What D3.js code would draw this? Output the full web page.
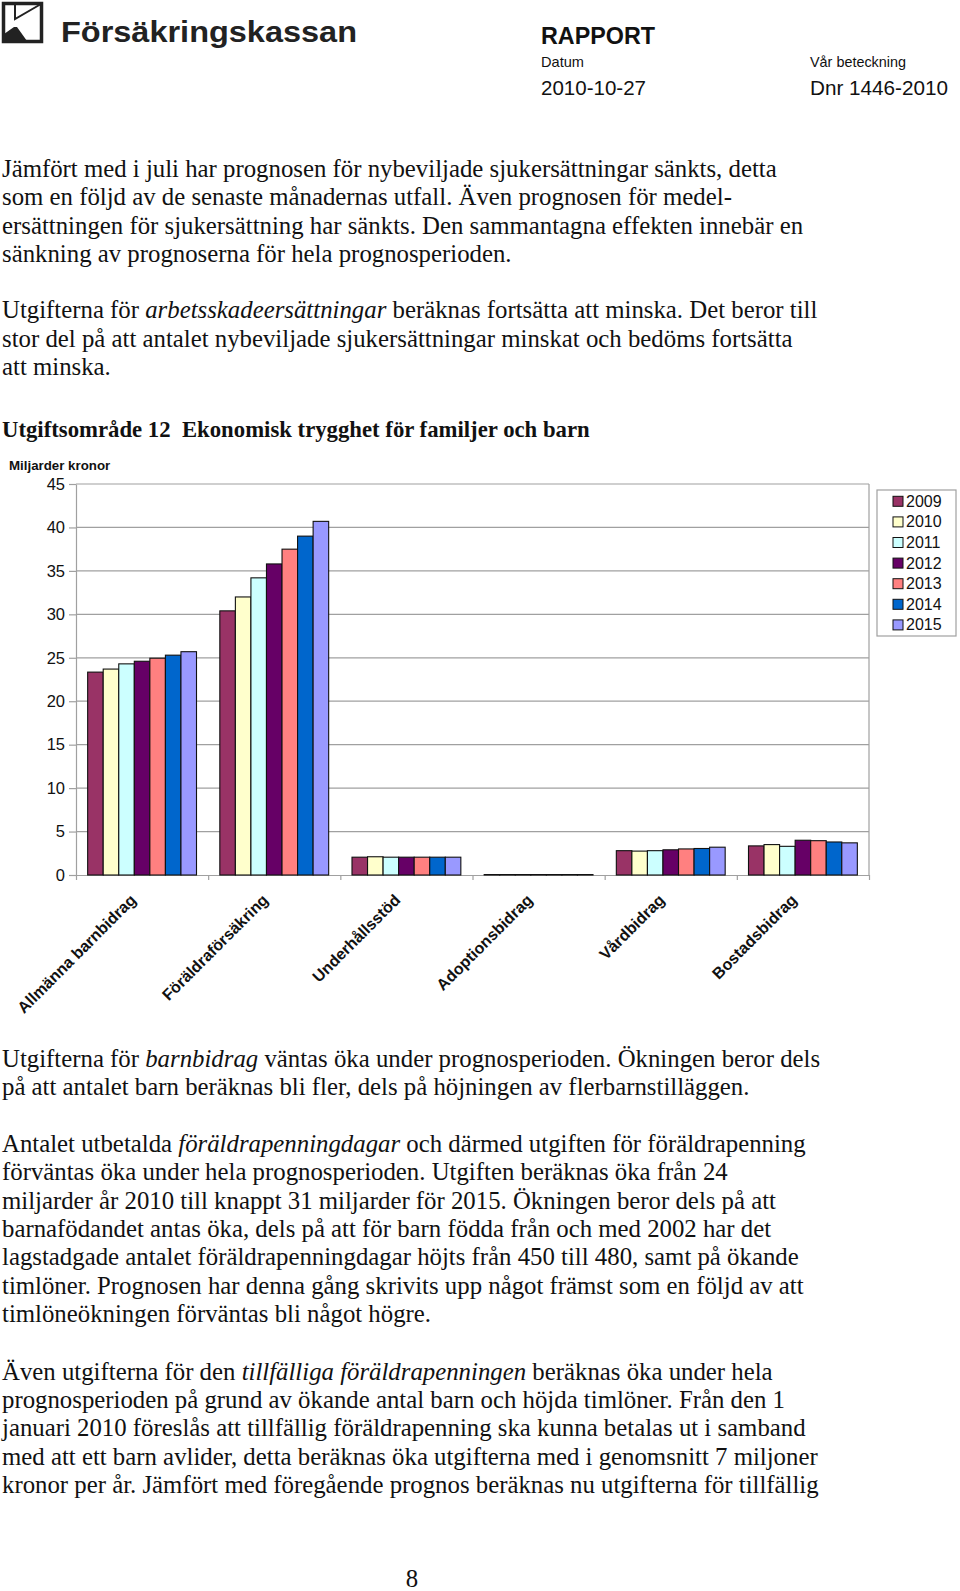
<!DOCTYPE html>
<html>
<head>
<meta charset="utf-8">
<script src="https://cdn.jsdelivr.net/npm/d3@7"></script>
<style>
  body { margin: 0; background: #fff; }
  svg { display: block; }
</style>
</head>
<body>
<div id="page"></div>
<script>
// Utgiftsområde 12 (miljarder kronor)
const categories = ["Allmänna barnbidrag", "Föräldraförsäkring", "Underhållsstöd", "Adoptionsbidrag", "Vårdbidrag", "Bostadsbidrag"];
const years = ["2009", "2010", "2011", "2012", "2013", "2014", "2015"];
const allmannaBarnbidrag = [23.35, 23.7, 24.3, 24.6, 24.95, 25.3, 25.7];
const foraldraforsakring = [30.4, 32.0, 34.2, 35.8, 37.5, 39.0, 40.7];
const underhallsstod = [2.05, 2.1, 2.05, 2.05, 2.05, 2.05, 2.05];
const adoptionsbidrag = [0.05, 0.05, 0.05, 0.05, 0.05, 0.05, 0.05];
const vardbidrag = [2.8, 2.75, 2.8, 2.9, 3.0, 3.05, 3.2];
const bostadsbidrag = [3.35, 3.5, 3.3, 4.0, 3.95, 3.8, 3.7];
const yTicks = [0, 5, 10, 15, 20, 25, 30, 35, 40, 45];
const yearColors = ["#993366", "#FFFFCC", "#CCFFFF", "#660066", "#FF8080", "#0066CC", "#9999FF"];

const seriesByCategory = [allmannaBarnbidrag, foraldraforsakring, underhallsstod, adoptionsbidrag, vardbidrag, bostadsbidrag];

// page text, *...* marks italic words
const textBefore = [
  ["Jämfört med i juli har prognosen för nybeviljade sjukersättningar sänkts, detta",
   "som en följd av de senaste månadernas utfall. Även prognosen för medel-",
   "ersättningen för sjukersättning har sänkts. Den sammantagna effekten innebär en",
   "sänkning av prognoserna för hela prognosperioden."],
  ["Utgifterna för *arbetsskadeersättningar* beräknas fortsätta att minska. Det beror till",
   "stor del på att antalet nybeviljade sjukersättningar minskat och bedöms fortsätta",
   "att minska."]
];
const textAfter = [
  ["Utgifterna för *barnbidrag* väntas öka under prognosperioden. Ökningen beror dels",
   "på att antalet barn beräknas bli fler, dels på höjningen av flerbarnstilläggen."],
  ["Antalet utbetalda *föräldrapenningdagar* och därmed utgiften för föräldrapenning",
   "förväntas öka under hela prognosperioden. Utgiften beräknas öka från 24",
   "miljarder år 2010 till knappt 31 miljarder för 2015. Ökningen beror dels på att",
   "barnafödandet antas öka, dels på att för barn födda från och med 2002 har det",
   "lagstadgade antalet föräldrapenningdagar höjts från 450 till 480, samt på ökande",
   "timlöner. Prognosen har denna gång skrivits upp något främst som en följd av att",
   "timlöneökningen förväntas bli något högre."],
  ["Även utgifterna för den *tillfälliga föräldrapenningen* beräknas öka under hela",
   "prognosperioden på grund av ökande antal barn och höjda timlöner. Från den 1",
   "januari 2010 föreslås att tillfällig föräldrapenning ska kunna betalas ut i samband",
   "med att ett barn avlider, detta beräknas öka utgifterna med i genomsnitt 7 miljoner",
   "kronor per år. Jämfört med föregående prognos beräknas nu utgifterna för tillfällig"]
];

const W = 960, H = 1591;
const svg = d3.select("#page").append("svg").attr("width", W).attr("height", H);
svg.append("rect").attr("width", W).attr("height", H).attr("fill", "#fff");

const sans = "'Liberation Sans', Arial, sans-serif";
const serif = "'Liberation Serif', 'Times New Roman', serif";

// ---- header ----
const logo = svg.append("g");
logo.append("rect").attr("x", 3.5).attr("y", 3.5).attr("width", 38).attr("height", 38)
  .attr("fill", "#fff").attr("stroke", "#222").attr("stroke-width", 3.5);
logo.append("path").attr("d", "M15,4 L15,19 L41,4").attr("fill", "none").attr("stroke", "#222").attr("stroke-width", 2);
logo.append("path").attr("d", "M4,41 L4,34 L14,27 L17,27 L27,41 Z").attr("fill", "#222");

svg.append("text").attr("x", 61).attr("y", 42).attr("font-family", sans).attr("font-weight", "bold")
  .attr("font-size", 30).attr("fill", "#222").attr("textLength", 296).attr("lengthAdjust", "spacingAndGlyphs")
  .text("Försäkringskassan");

const headerText = (x, y, size, txt, len, bold) => svg.append("text")
  .attr("x", x).attr("y", y).attr("font-family", sans).attr("font-size", size)
  .attr("font-weight", bold ? "bold" : "normal").attr("fill", "#111")
  .attr("textLength", len).attr("lengthAdjust", "spacingAndGlyphs").text(txt);
headerText(541, 44, 24, "RAPPORT", 114, true);
headerText(541, 67, 15, "Datum", 43);
headerText(810, 67, 15, "Vår beteckning", 96);
headerText(541, 95, 21, "2010-10-27", 105);
headerText(810, 95, 21, "Dnr 1446-2010", 138);

// ---- body text ----
// fit the serif size so the first line spans the same width as in the report
const probe = svg.append("text").attr("font-family", serif).attr("font-size", 100).text(textBefore[0][0]);
const bodySize = 100 * 775 / probe.node().getComputedTextLength();
probe.remove();

function writeLines(lines, x, y0, lh) {
  lines.forEach((line, i) => {
    const t = svg.append("text").attr("x", x).attr("y", y0 + i * lh)
      .attr("font-family", serif).attr("font-size", bodySize).attr("fill", "#111");
    line.split("*").forEach((part, k) => {
      if (part.length) t.append("tspan").attr("font-style", k % 2 ? "italic" : "normal").text(part);
    });
  });
}
const LH = 28.4;
writeLines(textBefore[0], 2, 176.7, LH);
writeLines(textBefore[1], 2, 318.3, LH);
writeLines(textAfter[0], 2, 1066.7, LH);
writeLines(textAfter[1], 2, 1151.7, LH);
writeLines(textAfter[2], 2, 1379.5, LH);

svg.append("text").attr("x", 2).attr("y", 436.7).attr("font-family", serif).attr("font-weight", "bold")
  .attr("font-size", bodySize * 0.917).attr("fill", "#111").attr("xml:space", "preserve")
  .text("Utgiftsområde 12  Ekonomisk trygghet för familjer och barn");

svg.append("text").attr("x", 412).attr("y", 1587).attr("text-anchor", "middle")
  .attr("font-family", serif).attr("font-size", bodySize).attr("fill", "#111").text("8");

// ---- chart ----
const plot = { left: 76, right: 869, top: 484, bottom: 875 };
const gridColor = "#a0a0a0";

const x0 = d3.scaleBand().domain(categories).range([plot.left, plot.right]).padding(0);
const x1 = d3.scaleBand().domain(years).range([0, x0.bandwidth()]).paddingInner(0).paddingOuter(0.75);
const y = d3.scaleLinear().domain([0, 45]).range([plot.bottom, plot.top]);
const color = d3.scaleOrdinal().domain(years).range(yearColors);

const chart = svg.append("g");

// gridlines
chart.append("g").selectAll("line").data(yTicks.filter(d => d > 0)).join("line")
  .attr("x1", plot.left).attr("x2", plot.right)
  .attr("y1", d => y(d)).attr("y2", d => y(d))
  .attr("stroke", gridColor).attr("stroke-width", 1.2);
chart.append("line").attr("x1", plot.right).attr("x2", plot.right)
  .attr("y1", plot.top).attr("y2", plot.bottom).attr("stroke", gridColor).attr("stroke-width", 1.2);

// y axis
const yAxis = chart.append("g").attr("transform", `translate(${plot.left},0)`)
  .call(d3.axisLeft(y).tickValues(yTicks).tickSize(7).tickSizeOuter(0).tickPadding(4));
yAxis.select(".domain").attr("stroke", gridColor).attr("stroke-width", 1.2);
yAxis.selectAll(".tick line").attr("stroke", gridColor).attr("stroke-width", 1.2);
yAxis.selectAll(".tick text").attr("font-family", sans).attr("font-size", 16.5).attr("fill", "#111");

// x axis: ticks on category boundaries
const xb = d3.scaleLinear().domain([0, categories.length]).range([plot.left, plot.right]);
const xAxis = chart.append("g").attr("transform", `translate(0,${plot.bottom})`)
  .call(d3.axisBottom(xb).ticks(categories.length).tickFormat("").tickSize(5).tickSizeOuter(0));
xAxis.select(".domain").attr("stroke", gridColor).attr("stroke-width", 1.2);
xAxis.selectAll(".tick line").attr("stroke", gridColor).attr("stroke-width", 1.2);

// bars
const groups = chart.append("g").selectAll("g").data(categories).join("g")
  .attr("transform", d => `translate(${x0(d)},0)`);
groups.selectAll("rect")
  .data((c, i) => years.map((yr, j) => ({ year: yr, value: seriesByCategory[i][j] })))
  .join("rect")
  .attr("x", d => x1(d.year))
  .attr("y", d => y(d.value))
  .attr("width", x1.bandwidth())
  .attr("height", d => y(0) - y(d.value))
  .attr("fill", d => color(d.year))
  .attr("stroke", "#111")
  .attr("stroke-width", 1.1);

// category labels, rotated
chart.append("g").selectAll("text").data(categories).join("text")
  .attr("transform", d => `translate(${x0(d) + x0.bandwidth() / 2 - 5},901) rotate(-45)`)
  .attr("text-anchor", "end")
  .attr("font-family", sans).attr("font-weight", "bold").attr("font-size", 16).attr("fill", "#111")
  .text(d => d);

// unit label
chart.append("text").attr("x", 9).attr("y", 470).attr("font-family", sans).attr("font-weight", "bold")
  .attr("font-size", 13.3).attr("fill", "#111").text("Miljarder kronor");

// legend
const legend = chart.append("g").attr("transform", "translate(877,490)");
legend.append("rect").attr("width", 79).attr("height", 146)
  .attr("fill", "#fff").attr("stroke", gridColor).attr("stroke-width", 1.2);
const rows = legend.selectAll("g").data(years).join("g")
  .attr("transform", (d, i) => `translate(0,${11.3 + i * 20.6})`);
rows.append("rect").attr("x", 16).attr("y", -5).attr("width", 10).attr("height", 10)
  .attr("fill", d => color(d)).attr("stroke", "#111").attr("stroke-width", 1);
rows.append("text").attr("x", 29).attr("y", 5.5).attr("font-family", sans).attr("font-size", 16)
  .attr("fill", "#111").text(d => d);
</script>
</body>
</html>
